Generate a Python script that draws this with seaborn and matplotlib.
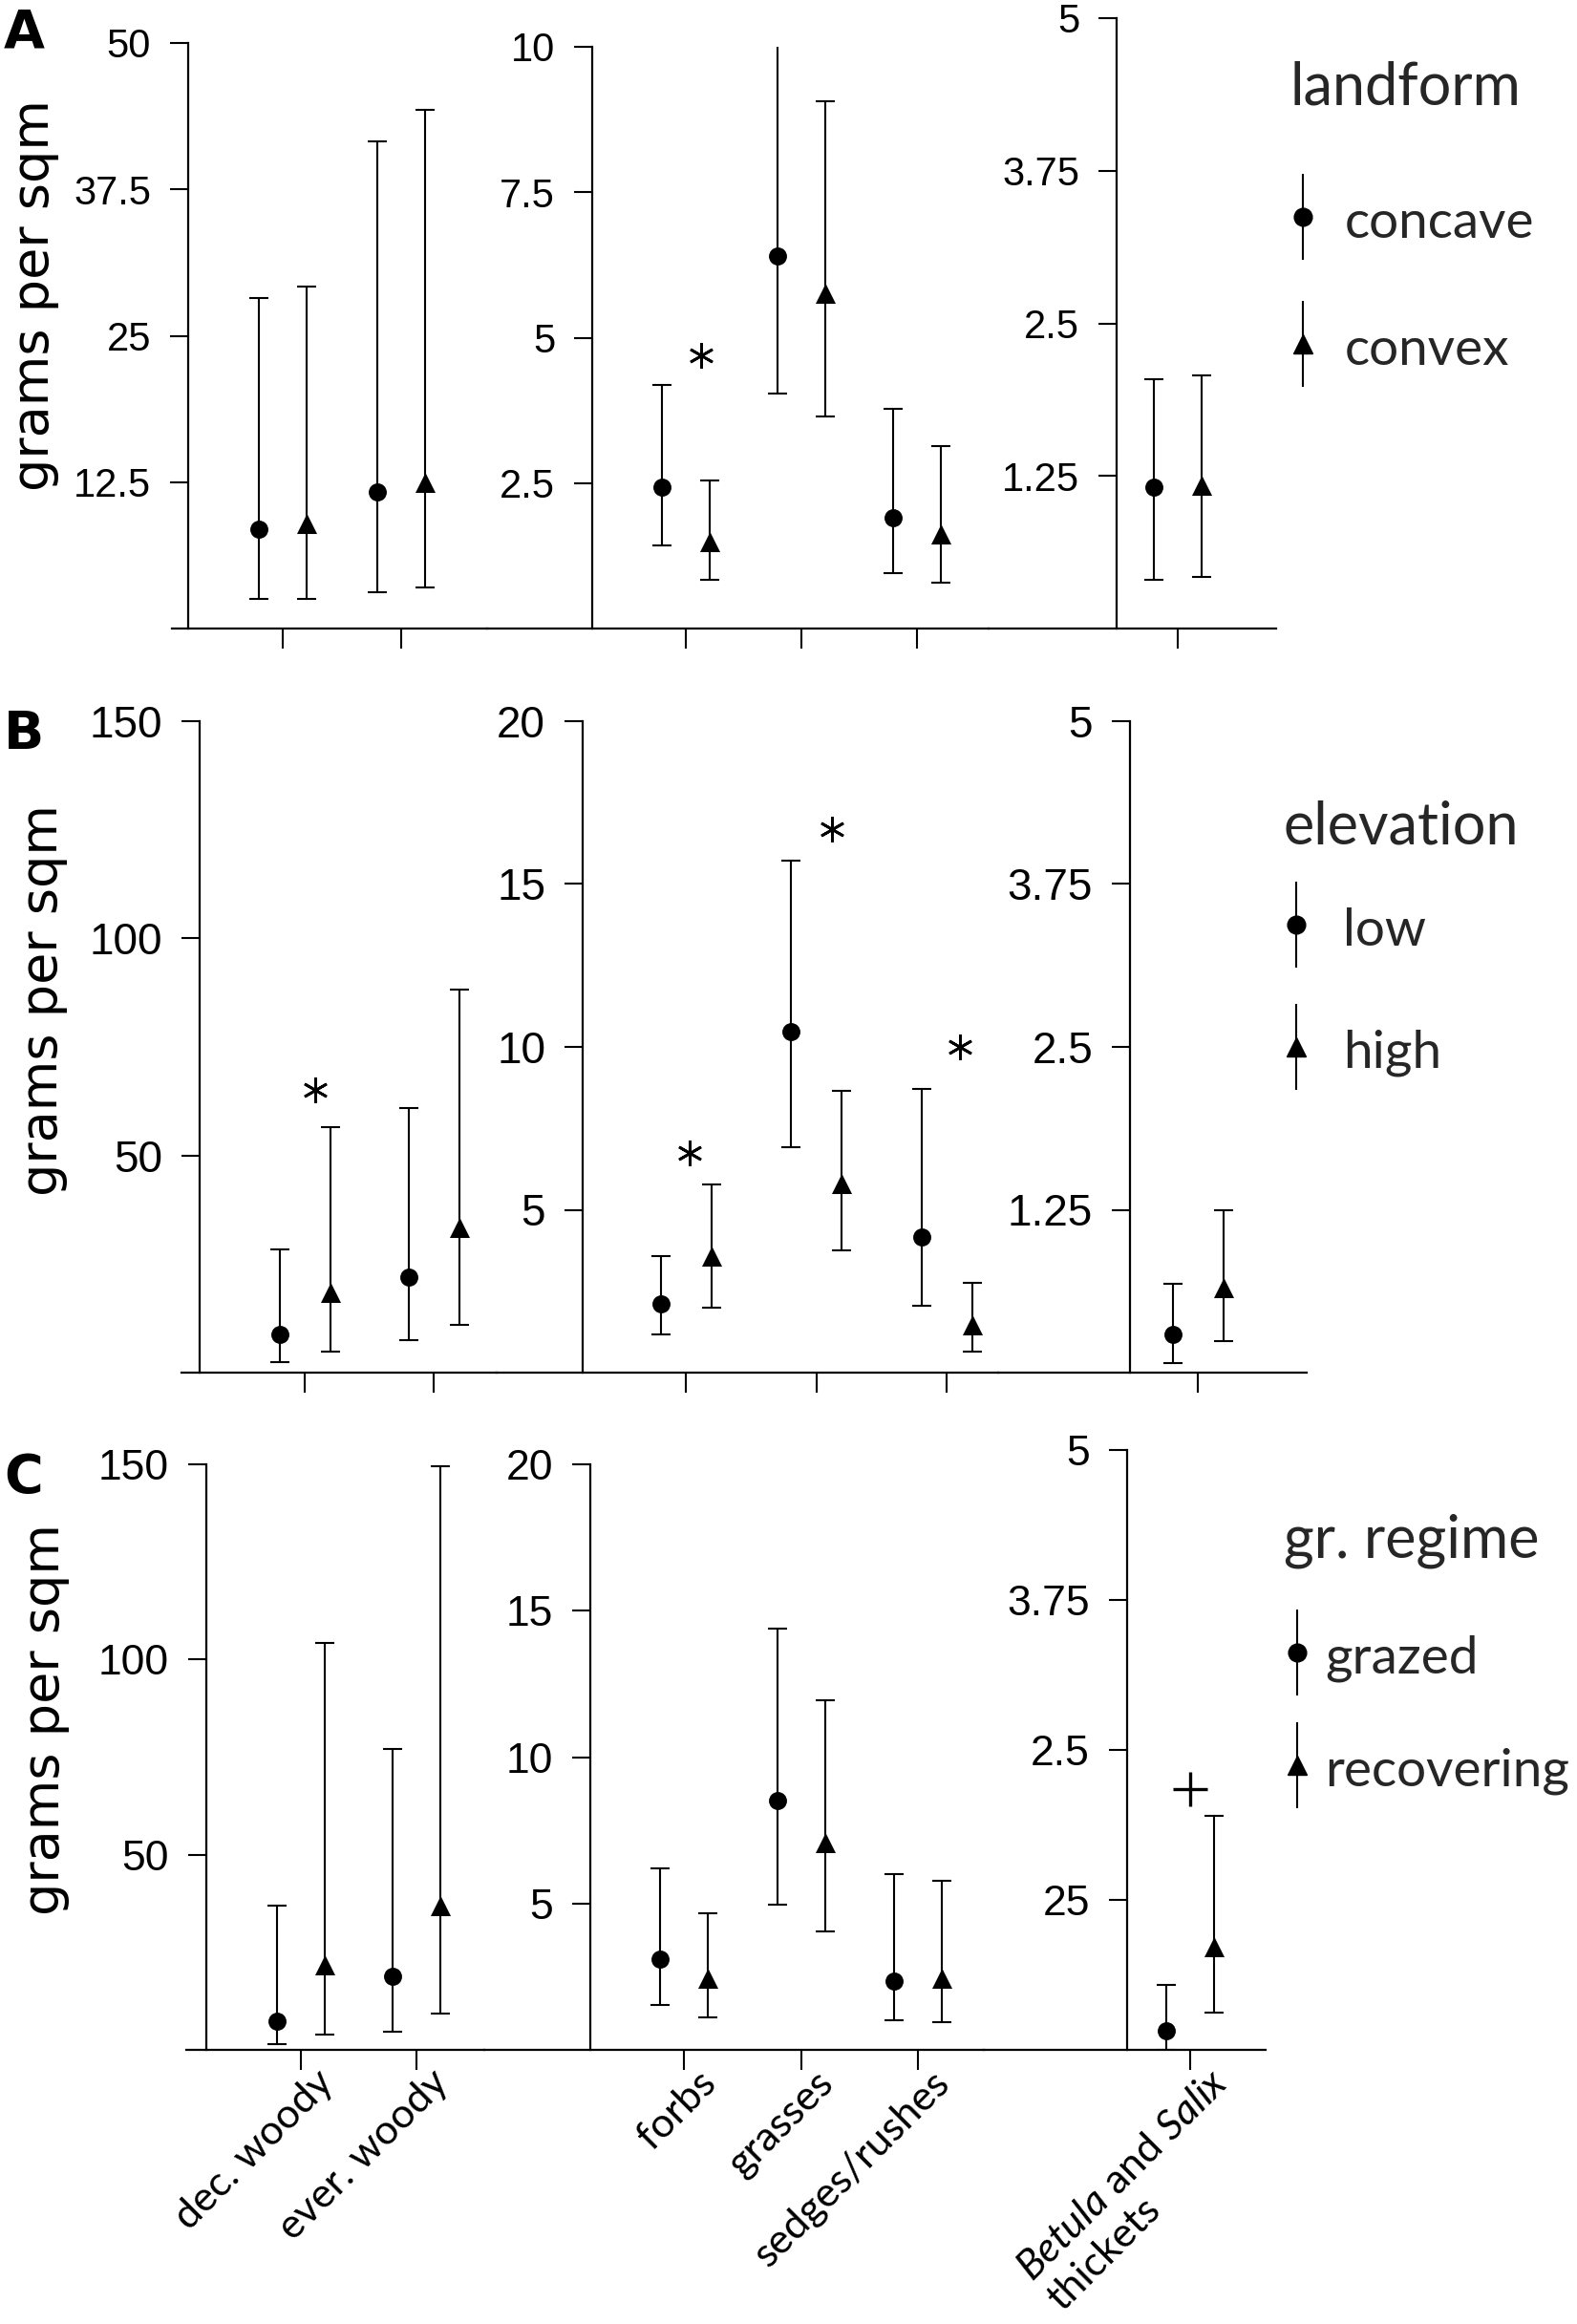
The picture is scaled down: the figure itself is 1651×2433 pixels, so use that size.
import numpy as np
import pandas as pd
import matplotlib
matplotlib.use("Agg")
import matplotlib.pyplot as plt
import matplotlib.transforms as mtransforms
import seaborn as sns
from matplotlib.container import ErrorbarContainer
from matplotlib.legend_handler import HandlerErrorbar

# ---- data ----
categories = ["dec. woody", "ever. woody", "forbs", "grasses", "sedges/rushes",
              "$\\it{Betula}$ and $\\it{Salix}$\nthickets"]
panel_of_cat = [0, 0, 1, 1, 1, 2]

# A: landform
concave_mean = [8.5, 11.7, 2.43, 6.41, 1.91, 1.16]
concave_lo = [2.5, 3.1, 1.43, 4.04, 0.96, 0.40]
concave_hi = [28.2, 41.6, 4.18, 10.14, 3.77, 2.04]
convex_mean = [9.0, 12.5, 1.50, 5.77, 1.62, 1.17]
convex_lo = [2.5, 3.5, 0.83, 3.64, 0.79, 0.42]
convex_hi = [29.2, 44.3, 2.54, 9.07, 3.14, 2.07]

# B: elevation
low_mean = [8.8, 21.9, 2.10, 10.46, 4.17, 0.29]
low_lo = [2.4, 7.4, 1.17, 6.93, 2.06, 0.07]
low_hi = [28.4, 61.0, 3.57, 15.73, 8.72, 0.68]
high_mean = [18.4, 33.4, 3.57, 5.82, 1.46, 0.65]
high_lo = [4.8, 10.9, 1.99, 3.75, 0.64, 0.24]
high_hi = [56.5, 88.3, 5.79, 8.65, 2.77, 1.25]

# C: grazing regime
grazed_mean = [7.3, 18.8, 3.10, 8.50, 2.36, 0.16]
grazed_lo = [1.5, 4.6, 1.52, 4.97, 1.00, 0.0]
grazed_hi = [37.0, 77.2, 6.19, 14.4, 6.00, 0.54]
recov_mean = [21.7, 37.0, 2.44, 7.09, 2.44, 0.86]
recov_lo = [3.8, 9.2, 1.12, 4.06, 0.93, 0.31]
recov_hi = [104.3, 149.5, 4.65, 11.94, 5.79, 1.95]

# y ticks per row and panel
ticks_a = [[12.5, 25, 37.5, 50], [2.5, 5, 7.5, 10], [1.25, 2.5, 3.75, 5]]
labels_a = [["12.5", "25", "37.5", "50"], ["2.5", "5", "7.5", "10"], ["1.25", "2.5", "3.75", "5"]]
ticks_b = [[50, 100, 150], [5, 10, 15, 20], [1.25, 2.5, 3.75, 5]]
labels_b = [["50", "100", "150"], ["5", "10", "15", "20"], ["1.25", "2.5", "3.75", "5"]]
ticks_c = [[50, 100, 150], [5, 10, 15, 20], [1.25, 2.5, 3.75, 5]]
labels_c = [["50", "100", "150"], ["5", "10", "15", "20"], ["25", "2.5", "3.75", "5"]]

# significance marks: (category index, x offset in category units, y value, symbol)
sig_a = [(2, 0.13, 4.7, "*")]
sig_b = [(0, 0.08, 65, "*"), (2, 0.03, 6.75, "*"), (3, 0.12, 16.7, "*"), (4, 0.10, 10.0, "*")]
sig_c = [(5, 0.0, 2.17, "+")]

# ---- style ----
sns.set_theme(style="ticks")
plt.rcParams["font.family"] = ["DejaVu Sans"]
plt.rcParams["mathtext.fontset"] = "custom"
plt.rcParams["mathtext.rm"] = "Lato"
plt.rcParams["mathtext.it"] = "Lato:italic"

W, H = 1651, 2433
fig = plt.figure(figsize=(W / 100, H / 100), dpi=100)
fig.patch.set_facecolor("white")

LEG_FS = 39.5
TITLE_FS = 44

# pixel layout per row: bottom, and per panel (x0, x1, top, first category px, px per category, spine px)
rows = [
    dict(bottom=658, panels=[(180, 510, 45, 296, 124, 197), (510, 1035, 49, 718, 121, 620),
                             (1035, 1336, 19, 1233, 122, 1169)], dodge=25,
         groups=[("concave", "o", concave_mean, concave_lo, concave_hi),
                 ("convex", "^", convex_mean, convex_lo, convex_hi)],
         title="landform", ticks=ticks_a, labels=labels_a, sig=sig_a, tick_fs=30,
         letter="A", letter_y=8, ylab_y=309, ylab_x=36,
         leg=(1350, 64), leg_space=1.46, title_sep=61, textpad=0.55),
    dict(bottom=1437, panels=[(190, 520, 755, 319, 135, 209), (520, 1045, 755, 718, 136.5, 610),
                              (1045, 1368, 755, 1254, 135, 1183)], dodge=26.5,
         groups=[("low", "o", low_mean, low_lo, low_hi),
                 ("high", "^", high_mean, high_lo, high_hi)],
         title="elevation", ticks=ticks_b, labels=labels_b, sig=sig_b, tick_fs=33,
         letter="B", letter_y=742, ylab_y=1047, ylab_x=45,
         leg=(1343, 838), leg_space=1.37, title_sep=37, textpad=0.65),
    dict(bottom=2146, panels=[(195, 507, 1533, 315, 121, 216), (507, 1030, 1533, 716, 122.5, 618),
                              (1030, 1325, 1518, 1246, 121, 1180)], dodge=25,
         groups=[("grazed", "o", grazed_mean, grazed_lo, grazed_hi),
                 ("recovering", "^", recov_mean, recov_lo, recov_hi)],
         title="gr. regime", ticks=ticks_c, labels=labels_c, sig=sig_c, tick_fs=32,
         letter="C", letter_y=1520, ylab_y=1800, ylab_x=47,
         leg=(1344, 1584), leg_space=1.19, title_sep=48, textpad=0.28),
]

for r_i, row in enumerate(rows):
    axes = []
    for p, (x0, x1, top, cat0, step, spine_x) in enumerate(row["panels"]):
        ax = fig.add_axes([x0 / W, 1 - row["bottom"] / H, (x1 - x0) / W, (row["bottom"] - top) / H])
        cats = [i for i, pc in enumerate(panel_of_cat) if pc == p]
        ymax = row["ticks"][p][-1]
        ax.set_xlim((x0 - cat0) / step, (x1 - cat0) / step)
        ax.set_ylim(0, ymax)
        d = row["dodge"] / step

        for g_i, (name, marker, mean, lo, hi) in enumerate(row["groups"]):
            off = -d if g_i == 0 else d
            df = pd.DataFrame({
                "x": np.arange(len(cats)) + off,
                "mean": [mean[c] for c in cats],
                "lo": [lo[c] for c in cats],
                "hi": [hi[c] for c in cats],
            })
            ax.errorbar(df["x"], df["mean"], yerr=[df["mean"] - df["lo"], df["hi"] - df["mean"]],
                        fmt="none", ecolor="black", elinewidth=1.5, capsize=7, capthick=1.5, zorder=2)
            sns.scatterplot(data=df, x="x", y="mean", marker=marker, color="black",
                            s=185 if marker == "o" else 230, edgecolor="black", linewidth=0,
                            legend=False, ax=ax, zorder=3)

        for (c, off, yv, sym) in row["sig"]:
            if c in cats:
                xi = cats.index(c) + off
                if sym == "*":
                    ax.plot(xi, yv, marker=(6, 2, 0), ms=19, mew=2.0, color="black", zorder=4)
                else:
                    ax.plot(xi, yv, marker="+", ms=26, mew=2.4, color="black", zorder=4)

        sns.despine(ax=ax)
        ax.spines["left"].set_position(("data", (spine_x - cat0) / step))
        for s in ("left", "bottom"):
            ax.spines[s].set_linewidth(1.6)
            ax.spines[s].set_color("black")
        ax.set_yticks(row["ticks"][p], row["labels"][p])
        ax.tick_params(axis="y", direction="out", length=14, width=1.5, pad=14,
                       labelsize=row["tick_fs"], colors="black")
        for lab in ax.get_yticklabels():
            lab.set_fontfamily("Liberation Sans")
        ax.set_xticks(np.arange(len(cats)))
        ax.tick_params(axis="x", direction="out", length=15, width=1.5, pad=0, colors="black")
        if r_i == 2:
            ax.set_xticklabels([categories[c] for c in cats], rotation=45, ha="right", va="top",
                               rotation_mode="anchor", fontfamily="Lato", fontsize=31,
                               multialignment="left")
            for lab in ax.get_xticklabels():
                dx = 0.2 if "Betula" in lab.get_text() else 0.14
                shift = mtransforms.ScaledTranslation(dx, 0.06, fig.dpi_scale_trans)
                lab.set_transform(lab.get_transform() + shift)
        else:
            ax.set_xticklabels([])
        ax.set_xlabel("")
        ax.set_ylabel("")
        ax.patch.set_alpha(0)
        axes.append(ax)

    # legend: marker with a vertical bar, as in the original
    handles = []
    for name, marker, *_ in row["groups"]:
        h = axes[2].errorbar([np.nan], [np.nan], yerr=[[np.nan], [np.nan]], fmt=marker, color="black",
                             ms=13.5 if marker == "o" else 15, capsize=0, elinewidth=1.5)
        handles.append(h)
    lx, ly = row["leg"]
    leg = axes[2].legend(handles, [g[0] for g in row["groups"]], title=row["title"],
                         loc="upper left", bbox_to_anchor=(lx / W, 1 - ly / H),
                         bbox_transform=fig.transFigure, borderaxespad=0,
                         frameon=False, prop={"family": "Lato", "size": LEG_FS},
                         title_fontproperties={"family": "Lato", "size": TITLE_FS},
                         alignment="left", handlelength=0.5, handletextpad=row["textpad"],
                         borderpad=0, labelspacing=row["leg_space"], handleheight=1.0,
                         handler_map={ErrorbarContainer: HandlerErrorbar(yerr_size=0.82)})
    leg._legend_box.sep = row["title_sep"]

    fig.text(row["ylab_x"] / W, 1 - row["ylab_y"] / H, "grams per sqm", rotation=90,
             ha="center", va="center", fontsize=39, color="black")
    fig.text(4 / W, 1 - row["letter_y"] / H, row["letter"], ha="left", va="top",
             fontsize=40, fontweight="bold", color="black")

fig.savefig("out.png", dpi=100, facecolor="white")
